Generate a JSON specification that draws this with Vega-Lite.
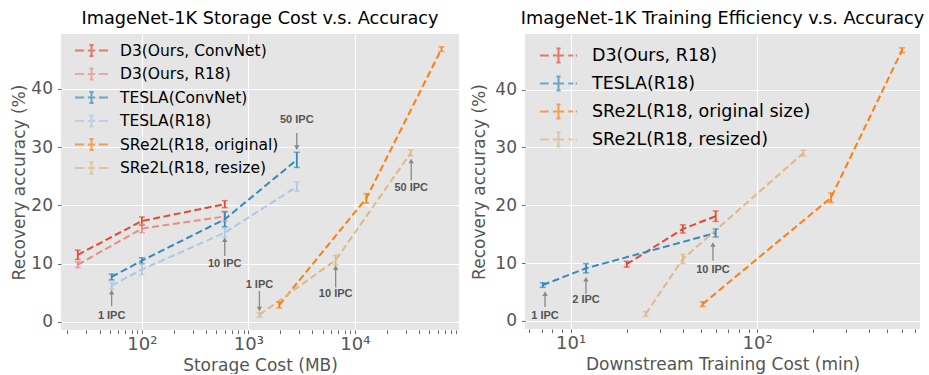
{
  "$schema": "https://vega.github.io/schema/vega-lite/v6.json",
  "padding": {"left": 10, "top": 10, "right": 0, "bottom": 0},
  "background": "white",
  "spacing": 11,
  "config": {
    "font": "DejaVu Sans",
    "view": {"fill": "#E5E5E5", "stroke": null},
    "title": {"fontSize": 17.7, "fontWeight": "normal", "color": "black", "offset": 6, "font": "DejaVu Sans"},
    "axis": {
      "domain": false, "grid": true, "gridColor": "white", "gridWidth": 1.2,
      "tickColor": "#666", "tickSize": 3.5, "tickWidth": 1,
      "labelColor": "#555", "labelFontSize": 17, "labelFont": "DejaVu Sans",
      "titleColor": "#555", "titleFontSize": 17, "titleFontWeight": "normal", "titleFont": "DejaVu Sans",
      "labelOverlap": false, "labelFlush": false
    },
    "legend": {
      "orient": "none", "title": null, "padding": 0,
      "symbolStrokeWidth": 2, "symbolFillColor": "transparent", "symbolDash": [],
      "labelColor": "black", "labelFont": "DejaVu Sans", "labelLimit": 400
    }
  },
  "datasets": {
    "p1": [
      {"series": "D3(Ours, ConvNet)", "x": 25, "y": 11.5, "lo": 10.7, "hi": 12.3},
      {"series": "D3(Ours, ConvNet)", "x": 100, "y": 17.3, "lo": 16.6, "hi": 18.0},
      {"series": "D3(Ours, ConvNet)", "x": 600, "y": 20.2, "lo": 19.6, "hi": 20.8},
      {"series": "D3(Ours, R18)", "x": 25, "y": 9.8, "lo": 9.3, "hi": 10.3},
      {"series": "D3(Ours, R18)", "x": 100, "y": 16.0, "lo": 15.3, "hi": 16.7},
      {"series": "D3(Ours, R18)", "x": 600, "y": 18.1, "lo": 17.3, "hi": 18.9},
      {"series": "TESLA(ConvNet)", "x": 52, "y": 7.7, "lo": 7.2, "hi": 8.2},
      {"series": "TESLA(ConvNet)", "x": 100, "y": 10.5, "lo": 10.0, "hi": 11.0},
      {"series": "TESLA(ConvNet)", "x": 600, "y": 17.6, "lo": 16.3, "hi": 18.9},
      {"series": "TESLA(ConvNet)", "x": 2850, "y": 27.8, "lo": 26.5, "hi": 29.1},
      {"series": "TESLA(R18)", "x": 52, "y": 6.2, "lo": 5.6, "hi": 6.8},
      {"series": "TESLA(R18)", "x": 100, "y": 9.0, "lo": 8.1, "hi": 9.9},
      {"series": "TESLA(R18)", "x": 600, "y": 15.3, "lo": 14.5, "hi": 16.1},
      {"series": "TESLA(R18)", "x": 2850, "y": 23.2, "lo": 22.4, "hi": 24.0},
      {"series": "SRe2L(R18, original)", "x": 1950, "y": 2.9, "lo": 2.4, "hi": 3.4},
      {"series": "SRe2L(R18, original)", "x": 12800, "y": 21.2, "lo": 20.4, "hi": 22.0},
      {"series": "SRe2L(R18, original)", "x": 65000, "y": 46.8, "lo": 46.4, "hi": 47.2},
      {"series": "SRe2L(R18, resize)", "x": 1270, "y": 1.2, "lo": 0.8, "hi": 1.6},
      {"series": "SRe2L(R18, resize)", "x": 6600, "y": 10.6, "lo": 9.8, "hi": 11.4},
      {"series": "SRe2L(R18, resize)", "x": 33500, "y": 29.0, "lo": 28.5, "hi": 29.5}
    ],
    "p2": [
      {"series": "D3(Ours, R18)", "x": 20, "y": 9.8, "lo": 9.3, "hi": 10.3},
      {"series": "D3(Ours, R18)", "x": 40, "y": 15.9, "lo": 15.2, "hi": 16.6},
      {"series": "D3(Ours, R18)", "x": 60, "y": 18.1, "lo": 17.2, "hi": 19.0},
      {"series": "TESLA(R18)", "x": 7.1, "y": 6.2, "lo": 5.8, "hi": 6.6},
      {"series": "TESLA(R18)", "x": 12.1, "y": 9.1, "lo": 8.3, "hi": 9.9},
      {"series": "TESLA(R18)", "x": 60, "y": 15.2, "lo": 14.5, "hi": 15.9},
      {"series": "SRe2L(R18, original size)", "x": 51, "y": 2.9, "lo": 2.5, "hi": 3.3},
      {"series": "SRe2L(R18, original size)", "x": 249, "y": 21.3, "lo": 20.5, "hi": 22.1},
      {"series": "SRe2L(R18, original size)", "x": 598, "y": 46.8, "lo": 46.4, "hi": 47.2},
      {"series": "SRe2L(R18, resized)", "x": 25.3, "y": 1.2, "lo": 0.8, "hi": 1.6},
      {"series": "SRe2L(R18, resized)", "x": 40, "y": 10.7, "lo": 9.9, "hi": 11.5},
      {"series": "SRe2L(R18, resized)", "x": 177, "y": 29.0, "lo": 28.5, "hi": 29.5}
    ],
    "a1": [
      {"label": "50 IPC", "x": 2850, "ty": 34.7, "tail": 32.4, "head": 29.9, "dir": "down"},
      {"label": "10 IPC", "x": 600, "ty": 10.0, "tail": 11.3, "head": 14.1, "dir": "up"},
      {"label": "1 IPC", "x": 52, "ty": 1.0, "tail": 2.7, "head": 5.1, "dir": "up"},
      {"label": "1 IPC", "x": 1270, "ty": 6.4, "tail": 5.3, "head": 2.2, "dir": "down"},
      {"label": "10 IPC", "x": 6600, "ty": 4.8, "tail": 5.9, "head": 9.3, "dir": "up"},
      {"label": "50 IPC", "x": 33800, "ty": 22.9, "tail": 24.3, "head": 27.6, "dir": "up"}
    ],
    "a2": [
      {"label": "1 IPC", "x": 7.3, "ty": 0.9, "tail": 2.4, "head": 4.7, "dir": "up"},
      {"label": "2 IPC", "x": 12.1, "ty": 3.6, "tail": 4.7, "head": 7.2, "dir": "up"},
      {"label": "10 IPC", "x": 58, "ty": 8.75, "tail": 10.4, "head": 13.2, "dir": "up"}
    ]
  },
  "hconcat": [
    {
      "width": 398, "height": 296,
      "title": "ImageNet-1K Storage Cost v.s. Accuracy",
      "layer": [
        {
          "data": {"name": "p1"},
          "mark": {"type": "line", "strokeDash": [7, 3.5], "strokeWidth": 2},
          "encoding": {
            "x": {"field": "x", "type": "quantitative",
              "scale": {"type": "log", "domain": [17.4, 95000], "nice": false},
              "title": "Storage Cost (MB)",
              "axis": {
                "values": [20,30,40,50,60,70,80,90,100,200,300,400,500,600,700,800,900,1000,2000,3000,4000,5000,6000,7000,8000,9000,10000,20000,30000,40000,50000,60000,70000,80000,90000],
                "labelExpr": "datum.value == 100 ? '10²' : datum.value == 1000 ? '10³' : datum.value == 10000 ? '10⁴' : ''",
                "gridOpacity": {"condition": {"test": "datum.value == 100 || datum.value == 1000 || datum.value == 10000", "value": 1}, "value": 0},
                "labelPadding": 2, "titlePadding": 4, "labelFontSize": 18
              }},
            "y": {"field": "y", "type": "quantitative",
              "scale": {"domain": [-1.4, 49.4], "nice": false, "zero": false},
              "title": "Recovery accuracy (%)",
              "axis": {"values": [0, 10, 20, 30, 40], "labelPadding": 5, "titlePadding": 2}},
            "color": {"field": "series", "type": "nominal",
              "scale": {"domain": ["D3(Ours, ConvNet)", "D3(Ours, R18)", "TESLA(ConvNet)", "TESLA(R18)", "SRe2L(R18, original)", "SRe2L(R18, resize)"],
                "range": ["#E24A33", "#F08A87", "#348ABD", "#AEC7E8", "#FF7F0E", "#E0B888"]},
              "legend": {"legendX": 21, "legendY": 7, "symbolSize": 272, "labelFontSize": 15.5, "labelOffset": 19, "rowPadding": 2.5,
                "symbolType": "M-2,0H-0.9M-0.45,0H0.45M0.9,0H2M0,-0.67V0.67M-0.25,-0.67H0.25M-0.25,0.67H0.25"}}
          }
        },
        {
          "data": {"name": "p1"},
          "mark": {"type": "rule", "strokeWidth": 1.8},
          "encoding": {
            "x": {"field": "x", "type": "quantitative"},
            "y": {"field": "lo", "type": "quantitative"},
            "y2": {"field": "hi"},
            "color": {"field": "series", "type": "nominal"}
          }
        },
        {
          "data": {"name": "p1"},
          "mark": {"type": "tick", "orient": "horizontal", "size": 6, "thickness": 1.5},
          "encoding": {
            "x": {"field": "x", "type": "quantitative"},
            "y": {"field": "lo", "type": "quantitative"},
            "color": {"field": "series", "type": "nominal"}
          }
        },
        {
          "data": {"name": "p1"},
          "mark": {"type": "tick", "orient": "horizontal", "size": 6, "thickness": 1.5},
          "encoding": {
            "x": {"field": "x", "type": "quantitative"},
            "y": {"field": "hi", "type": "quantitative"},
            "color": {"field": "series", "type": "nominal"}
          }
        },
        {
          "data": {"name": "a1"},
          "mark": {"type": "rule", "color": "#888", "strokeWidth": 1.3},
          "encoding": {
            "x": {"field": "x", "type": "quantitative"},
            "y": {"field": "tail", "type": "quantitative"},
            "y2": {"field": "head"}
          }
        },
        {
          "data": {"name": "a1"},
          "mark": {"type": "point", "filled": true, "color": "#888", "size": 28, "opacity": 1},
          "encoding": {
            "x": {"field": "x", "type": "quantitative"},
            "y": {"field": "head", "type": "quantitative"},
            "shape": {"field": "dir", "type": "nominal", "scale": {"domain": ["down", "up"], "range": ["triangle-down", "triangle-up"]}, "legend": null}
          }
        },
        {
          "data": {"name": "a1"},
          "mark": {"type": "text", "font": "Liberation Sans", "fontSize": 11, "color": "#555", "fontWeight": "bold"},
          "encoding": {
            "x": {"field": "x", "type": "quantitative"},
            "y": {"field": "ty", "type": "quantitative"},
            "text": {"field": "label"}
          }
        }
      ]
    },
    {
      "width": 395, "height": 295,
      "title": "ImageNet-1K Training Efficiency v.s. Accuracy",
      "layer": [
        {
          "data": {"name": "p2"},
          "mark": {"type": "line", "strokeDash": [7, 3.5], "strokeWidth": 2},
          "encoding": {
            "x": {"field": "x", "type": "quantitative",
              "scale": {"type": "log", "domain": [5.7, 747], "nice": false},
              "title": "Downstream Training Cost (min)",
              "axis": {
                "values": [6,7,8,9,10,20,30,40,50,60,70,80,90,100,200,300,400,500,600,700],
                "labelExpr": "datum.value == 10 ? '10¹' : datum.value == 100 ? '10²' : ''",
                "gridOpacity": {"condition": {"test": "datum.value == 10 || datum.value == 100", "value": 1}, "value": 0},
                "labelPadding": 2, "titlePadding": 4, "labelFontSize": 18
              }},
            "y": {"field": "y", "type": "quantitative",
              "scale": {"domain": [-1.4, 49.6], "nice": false, "zero": false},
              "title": "Recovery accuracy (%)",
              "axis": {"values": [0, 10, 20, 30, 40], "labelPadding": 5, "titlePadding": 6}},
            "color": {"field": "series", "type": "nominal",
              "scale": {"domain": ["D3(Ours, R18)", "TESLA(R18)", "SRe2L(R18, original size)", "SRe2L(R18, resized)"],
                "range": ["#E24A33", "#348ABD", "#FF7F0E", "#E0B888"]},
              "legend": {"legendX": 23, "legendY": 11, "symbolSize": 346, "labelFontSize": 17.5, "labelOffset": 23, "rowPadding": 5,
                "symbolType": "M-2,0H-1.05M-0.6,0H0.6M1.05,0H1.6M1.85,0H2M0,-0.75V0.75M-0.22,-0.75H0.22M-0.22,0.75H0.22"}}
          }
        },
        {
          "data": {"name": "p2"},
          "mark": {"type": "rule", "strokeWidth": 1.8},
          "encoding": {
            "x": {"field": "x", "type": "quantitative"},
            "y": {"field": "lo", "type": "quantitative"},
            "y2": {"field": "hi"},
            "color": {"field": "series", "type": "nominal"}
          }
        },
        {
          "data": {"name": "p2"},
          "mark": {"type": "tick", "orient": "horizontal", "size": 6, "thickness": 1.5},
          "encoding": {
            "x": {"field": "x", "type": "quantitative"},
            "y": {"field": "lo", "type": "quantitative"},
            "color": {"field": "series", "type": "nominal"}
          }
        },
        {
          "data": {"name": "p2"},
          "mark": {"type": "tick", "orient": "horizontal", "size": 6, "thickness": 1.5},
          "encoding": {
            "x": {"field": "x", "type": "quantitative"},
            "y": {"field": "hi", "type": "quantitative"},
            "color": {"field": "series", "type": "nominal"}
          }
        },
        {
          "data": {"name": "a2"},
          "mark": {"type": "rule", "color": "#888", "strokeWidth": 1.3},
          "encoding": {
            "x": {"field": "x", "type": "quantitative"},
            "y": {"field": "tail", "type": "quantitative"},
            "y2": {"field": "head"}
          }
        },
        {
          "data": {"name": "a2"},
          "mark": {"type": "point", "filled": true, "color": "#888", "size": 28, "opacity": 1},
          "encoding": {
            "x": {"field": "x", "type": "quantitative"},
            "y": {"field": "head", "type": "quantitative"},
            "shape": {"field": "dir", "type": "nominal", "scale": {"domain": ["down", "up"], "range": ["triangle-down", "triangle-up"]}, "legend": null}
          }
        },
        {
          "data": {"name": "a2"},
          "mark": {"type": "text", "font": "Liberation Sans", "fontSize": 11, "color": "#555", "fontWeight": "bold"},
          "encoding": {
            "x": {"field": "x", "type": "quantitative"},
            "y": {"field": "ty", "type": "quantitative"},
            "text": {"field": "label"}
          }
        }
      ]
    }
  ],
  "resolve": {"scale": {"color": "independent", "shape": "independent"}}
}
